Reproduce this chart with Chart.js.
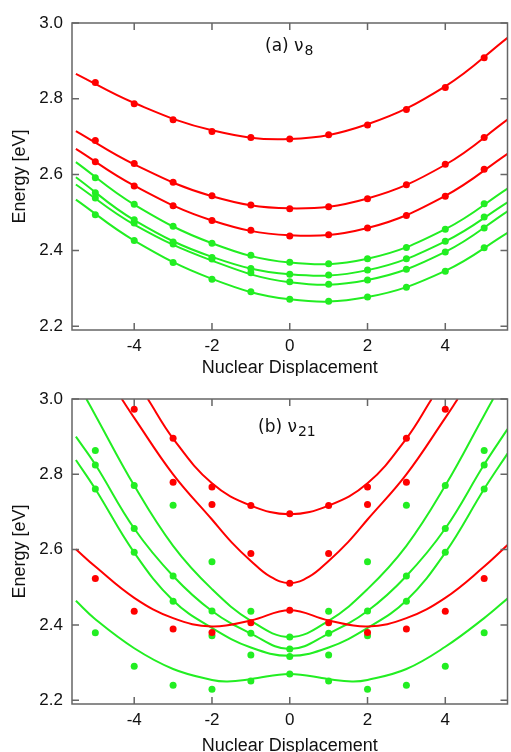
<!DOCTYPE html>
<html>
<head>
<meta charset="utf-8">
<script src="https://cdn.jsdelivr.net/npm/chart.js@4.4.1/dist/chart.umd.min.js"></script>
<style>
html, body { margin: 0; padding: 0; background: #fff; }
canvas { display: block; }
</style>
</head>
<body>
<canvas id="nu8" width="511" height="376"></canvas>
<canvas id="nu21" width="511" height="376"></canvas>
<script>
const RED = '#ff0000';
const GREEN = '#22ee22';

const xTicks = [-4, -2, 0, 2, 4];
const yTicks = [2.2, 2.4, 2.6, 2.8, 3.0];

// (a) nu8 - computed states at each displacement
const dispA = [-5, -4, -3, -2, -1, 0, 1, 2, 3, 4, 5];
const aRed1 = [2.843, 2.787, 2.745, 2.714, 2.698, 2.694, 2.705, 2.731, 2.772, 2.830, 2.908];
const aRed2 = [2.690, 2.629, 2.580, 2.544, 2.520, 2.510, 2.515, 2.536, 2.573, 2.627, 2.698];
const aRed3 = [2.634, 2.570, 2.518, 2.479, 2.453, 2.438, 2.441, 2.459, 2.492, 2.543, 2.614];
const aGrn1 = [2.592, 2.522, 2.464, 2.419, 2.387, 2.369, 2.365, 2.378, 2.408, 2.456, 2.523];
const aGrn2 = [2.552, 2.481, 2.422, 2.381, 2.352, 2.337, 2.335, 2.348, 2.378, 2.424, 2.488];
const aGrn3 = [2.538, 2.472, 2.417, 2.377, 2.341, 2.317, 2.311, 2.322, 2.350, 2.396, 2.459];
const aGrn4 = [2.494, 2.426, 2.368, 2.324, 2.291, 2.271, 2.266, 2.277, 2.303, 2.345, 2.407];

// (a) fitted curves
const fitXA = [-5.5, -4, -2, 0, 2, 4, 5.6];
const aFitR1 = [2.866, 2.789, 2.717, 2.694, 2.733, 2.833, 2.961];
const aFitR2 = [2.715, 2.627, 2.543, 2.511, 2.537, 2.626, 2.745];
const aFitR3 = [2.668, 2.571, 2.479, 2.440, 2.459, 2.544, 2.655];
const aFitG1 = [2.633, 2.521, 2.419, 2.368, 2.378, 2.456, 2.563];
const aFitG2 = [2.593, 2.480, 2.383, 2.337, 2.348, 2.424, 2.527];
const aFitG3 = [2.574, 2.468, 2.373, 2.316, 2.322, 2.396, 2.503];
const aFitG4 = [2.534, 2.426, 2.325, 2.271, 2.277, 2.346, 2.446];

// (b) nu21 - computed states
const bRedX = [0, 0, 0, -1, 1, -1, 1, -1, 1, -2, 2, -2, 2, -2, 2, -3, 3, -3, 3, -3, 3, -4, 4, -4, 4, -5, 5];
const bRedY = [2.695, 2.511, 2.439, 2.717, 2.717, 2.590, 2.590, 2.406, 2.406, 2.766, 2.766, 2.720, 2.720,
  2.380, 2.380, 2.896, 2.896, 2.779, 2.779, 2.389, 2.389, 2.973, 2.973, 2.436, 2.436, 2.523, 2.523];
const bGrnX = [0, 0, 0, 0, -1, 1, -1, 1, -1, 1, -1, 1, -2, 2, -2, 2, -2, 2, -2, 2,
  -3, 3, -3, 3, -3, 3, -3, 3, -4, 4, -4, 4, -4, 4, -4, 4, -5, 5, -5, 5, -5, 5, -5, 5];
const bGrnY = [2.368, 2.336, 2.316, 2.270, 2.436, 2.436, 2.378, 2.378, 2.320, 2.320, 2.251, 2.251,
  2.568, 2.568, 2.437, 2.437, 2.371, 2.371, 2.229, 2.229, 2.718, 2.718, 2.530, 2.530, 2.463, 2.463, 2.240, 2.240,
  2.770, 2.770, 2.656, 2.656, 2.593, 2.593, 2.290, 2.290, 2.863, 2.863, 2.825, 2.825, 2.761, 2.761, 2.379, 2.379];

// (b) fitted curves
const bRedAX = [-3.65, -3, -2, -1, 0, 1, 2, 3, 3.65];
const bRedAY = [3.0, 2.895, 2.776, 2.717, 2.694, 2.717, 2.776, 2.895, 3.0];
const bRedBX = [-4.32, -4, -3, -2, -1.5, -1, -0.5, 0, 0.5, 1, 1.5, 2, 3, 4, 4.32];
const bRedBY = [3.0, 2.95, 2.80, 2.68, 2.62, 2.57, 2.528, 2.511, 2.528, 2.57, 2.62, 2.68, 2.80, 2.95, 3.0];
const bRedCX = [-5.5, -5, -4, -3, -2, -1, 0, 1, 2, 3, 4, 5, 5.6];
const bRedCY = [2.601, 2.555, 2.472, 2.418, 2.396, 2.412, 2.439, 2.412, 2.396, 2.418, 2.472, 2.555, 2.612];
const bGrn1X = [-5.23, -5, -4, -3, -2, -1, 0, 1, 2, 3, 4, 5, 5.23];
const bGrn1Y = [3.0, 2.957, 2.770, 2.61, 2.495, 2.411, 2.368, 2.411, 2.495, 2.61, 2.770, 2.957, 3.0];
const bGrn23X = [-5.5, -5, -4, -3, -2, -1, 0, 1, 2, 3, 4, 5, 5.6];
const bGrn2Y = [2.90, 2.826, 2.656, 2.530, 2.437, 2.377, 2.336, 2.377, 2.437, 2.530, 2.656, 2.826, 2.92];
const bGrn3Y = [2.838, 2.761, 2.592, 2.465, 2.392, 2.340, 2.318, 2.340, 2.392, 2.465, 2.592, 2.761, 2.855];
const bGrn4X = [-5.5, -5, -4, -3, -2, -1.6, -1, 0, 1, 1.6, 2, 3, 4, 5, 5.6];
const bGrn4Y = [2.464, 2.415, 2.338, 2.283, 2.254, 2.250, 2.256, 2.270, 2.256, 2.250, 2.254, 2.283, 2.342, 2.418, 2.470];

const pts = (xs, ys) => xs.map((x, i) => ({ x: x, y: ys[i] }));

function dots(xs, ys, color) {
  return { data: pts(xs, ys), showLine: false, pointRadius: 3.5, pointHoverRadius: 3.5,
    pointBackgroundColor: color, pointBorderWidth: 0 };
}
function curve(xs, ys, color) {
  return { data: pts(xs, ys), showLine: true, pointRadius: 0, borderColor: color,
    borderWidth: 2, tension: 0.4, fill: false };
}

const framePlugin = {
  id: 'frame',
  afterDatasetsDraw(chart, args, opts) {
    const { ctx, chartArea: a, scales } = chart;
    const x = scales.x, y = scales.y;
    ctx.save();
    ctx.strokeStyle = '#666';
    ctx.lineWidth = 1.5;
    ctx.strokeRect(a.left, a.top, a.right - a.left, a.bottom - a.top);
    ctx.beginPath();
    xTicks.forEach(v => {
      const px = x.getPixelForValue(v);
      ctx.moveTo(px, a.bottom); ctx.lineTo(px, a.bottom - 7);
      ctx.moveTo(px, a.top); ctx.lineTo(px, a.top + 7);
    });
    yTicks.forEach(v => {
      const py = y.getPixelForValue(v);
      ctx.moveTo(a.left, py); ctx.lineTo(a.left + 7, py);
      ctx.moveTo(a.right, py); ctx.lineTo(a.right - 7, py);
    });
    ctx.stroke();

    // panel label with subscript
    ctx.fillStyle = '#111';
    ctx.textBaseline = 'alphabetic';
    ctx.font = '17px "DejaVu Sans"';
    ctx.fillText(opts.main, opts.x, opts.y);
    const w = ctx.measureText(opts.main).width;
    ctx.font = '14px "DejaVu Sans"';
    ctx.fillText(opts.sub, opts.x + w + 1, opts.y + 4);
    ctx.restore();
  }
};

function makeOptions(xHeight, titlePad, label) {
  return {
    responsive: false,
    animation: false,
    layout: { padding: { top: 23, right: 1, left: 0, bottom: 0 } },
    plugins: { legend: { display: false }, tooltip: { enabled: false }, frame: label },
    scales: {
      x: {
        type: 'linear', min: -5.6, max: 5.6,
        afterBuildTicks: s => { s.ticks = xTicks.map(v => ({ value: v })); },
        afterFit: s => { s.height = xHeight; },
        grid: { display: false, drawTicks: false },
        border: { display: false },
        ticks: { padding: 6, color: '#111', font: { family: 'Liberation Sans', size: 17 } },
        title: { display: true, text: 'Nuclear Displacement', color: '#111',
          font: { family: 'Liberation Sans', size: 18 }, padding: { top: 0, bottom: titlePad } }
      },
      y: {
        type: 'linear', min: 2.19, max: 3.0,
        afterBuildTicks: s => { s.ticks = yTicks.map(v => ({ value: v })); },
        afterFit: s => { s.width = 72; },
        grid: { display: false, drawTicks: false },
        border: { display: false },
        ticks: { padding: 9, color: '#111', font: { family: 'Liberation Sans', size: 17 },
          callback: v => v.toFixed(1) },
        title: { display: true, text: 'Energy [eV]', color: '#111',
          font: { family: 'Liberation Sans', size: 18 }, padding: { top: 9, bottom: 0 } }
      }
    }
  };
}

new Chart(document.getElementById('nu8'), {
  type: 'scatter',
  data: {
    datasets: [
      dots(dispA, aRed1, RED), dots(dispA, aRed2, RED), dots(dispA, aRed3, RED),
      dots(dispA, aGrn1, GREEN), dots(dispA, aGrn2, GREEN), dots(dispA, aGrn3, GREEN), dots(dispA, aGrn4, GREEN),
      curve(fitXA, aFitR1, RED), curve(fitXA, aFitR2, RED), curve(fitXA, aFitR3, RED),
      curve(fitXA, aFitG1, GREEN), curve(fitXA, aFitG2, GREEN), curve(fitXA, aFitG3, GREEN), curve(fitXA, aFitG4, GREEN)
    ]
  },
  options: makeOptions(46, -3, { main: '(a) \u03bd', sub: '8', x: 265, y: 51 }),
  plugins: [framePlugin]
});

new Chart(document.getElementById('nu21'), {
  type: 'scatter',
  data: {
    datasets: [
      dots(bRedX, bRedY, RED), dots(bGrnX, bGrnY, GREEN),
      curve(bRedAX, bRedAY, RED), curve(bRedBX, bRedBY, RED), curve(bRedCX, bRedCY, RED),
      curve(bGrn1X, bGrn1Y, GREEN), curve(bGrn23X, bGrn2Y, GREEN), curve(bGrn23X, bGrn3Y, GREEN),
      curve(bGrn4X, bGrn4Y, GREEN)
    ]
  },
  options: makeOptions(48, -5, { main: '(b) \u03bd', sub: '21', x: 258, y: 56 }),
  plugins: [framePlugin]
});
</script>
</body>
</html>
